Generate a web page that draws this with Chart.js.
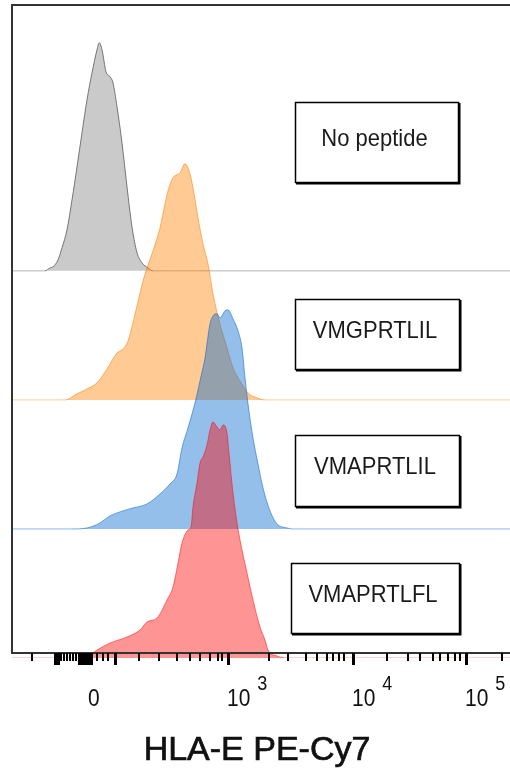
<!DOCTYPE html>
<html>
<head>
<meta charset="utf-8">
<script src="https://cdn.jsdelivr.net/npm/chart.js@4.4.1/dist/chart.umd.min.js"></script>
<style>
  html, body { margin: 0; padding: 0; background: #fff; }
  #chart { display: block; }
</style>
</head>
<body>
<canvas id="chart" width="510" height="770"></canvas>
<script>
// Staggered HLA-E PE-Cy7 histograms (biexponential display units, ~1 unit per decade)

const sampleNames = ['No peptide', 'VMGPRTLIL', 'VMAPRTLIL', 'VMAPRTLFL'];

// x positions (display units) and normalised heights for each histogram
const grayX = [-0.592, -0.328, -0.288, -0.264, -0.224, -0.192, -0.152, -0.112, -0.072, -0.032, 0.008, 0.048, 0.088, 0.106, 0.128, 0.160, 0.192, 0.216, 0.248, 0.288, 0.328, 0.368, 0.408, 0.448, 0.496, 0.536, 3.392];
const grayY = [0, 0, 0.023, 0.031, 0.085, 0.178, 0.318, 0.550, 0.806, 1.070, 1.326, 1.535, 1.713, 1.767, 1.713, 1.543, 1.504, 1.457, 1.271, 0.992, 0.651, 0.341, 0.140, 0.062, 0.023, 0, 0];

const orangeX = [-0.592, -0.168, -0.072, 0.008, 0.088, 0.168, 0.248, 0.296, 0.336, 0.408, 0.456, 0.536, 0.592, 0.632, 0.656, 0.696, 0.752, 0.792, 0.832, 0.856, 0.896, 0.936, 0.976, 1.016, 1.072, 1.128, 1.176, 1.232, 1.296, 1.368, 1.432, 3.392];
const orangeY = [0, 0, 0.047, 0.085, 0.132, 0.240, 0.364, 0.395, 0.457, 0.729, 0.922, 1.155, 1.333, 1.519, 1.620, 1.721, 1.760, 1.829, 1.752, 1.643, 1.411, 1.209, 1.054, 0.822, 0.589, 0.403, 0.248, 0.147, 0.054, 0.016, 0, 0];

const blueX = [-0.592, -0.112, 0.008, 0.112, 0.192, 0.296, 0.376, 0.488, 0.592, 0.672, 0.728, 0.768, 0.816, 0.872, 0.912, 0.952, 0.992, 1.016, 1.048, 1.072, 1.112, 1.136, 1.176, 1.216, 1.248, 1.272, 1.296, 1.336, 1.376, 1.416, 1.472, 1.528, 1.608, 1.648, 3.392];
const blueY = [0, 0, 0.008, 0.047, 0.101, 0.140, 0.163, 0.194, 0.271, 0.349, 0.426, 0.628, 0.783, 0.977, 1.147, 1.326, 1.589, 1.651, 1.667, 1.636, 1.690, 1.698, 1.628, 1.535, 1.403, 1.171, 0.969, 0.705, 0.504, 0.318, 0.140, 0.039, 0.008, 0, 0];

const redX = [-0.592, -0.008, 0.088, 0.192, 0.328, 0.432, 0.488, 0.568, 0.648, 0.696, 0.736, 0.768, 0.816, 0.840, 0.856, 0.888, 0.912, 0.936, 0.968, 0.992, 1.016, 1.048, 1.072, 1.096, 1.128, 1.144, 1.176, 1.208, 1.232, 1.288, 1.336, 1.392, 1.432, 1.456, 1.528, 1.608, 3.392];
const redY = [0, 0, 0.062, 0.116, 0.163, 0.217, 0.279, 0.310, 0.450, 0.550, 0.736, 0.891, 0.992, 1.016, 1.171, 1.357, 1.512, 1.558, 1.651, 1.767, 1.829, 1.791, 1.767, 1.806, 1.744, 1.589, 1.279, 1.047, 0.915, 0.659, 0.450, 0.240, 0.140, 0.062, 0.016, 0, 0];

// vertical offset of each histogram (stacked)
const offsets = [3, 2, 1, 0];

// axis ticks (display units)
const majorTicks = [-0.248, -0.224, -0.056, -0.04, -0.024, -0.008, 0, 0.016, 0.04, 0.232, 1.136, 2.136, 3.04];
const minorTicks = [-0.432, -0.2, -0.176, -0.152, -0.128, -0.104, -0.08, 0.088, 0.136, 0.176,
  0.424, 0.584, 0.728, 0.832, 0.912, 0.992, 1.056, 1.088,
  1.464, 1.616, 1.76, 1.848, 1.928, 1.976, 2.024, 2.064,
  2.408, 2.576, 2.672, 2.776, 2.832, 2.896, 2.952, 2.992, 3.328];
const labelTicks = [0, 1.136, 2.136, 3.04];
const labelBase = ['0', '10', '10', '10'];
const labelExp = ['', '3', '4', '5'];

const axisTitle = 'HLA-E PE-Cy7';

// label boxes (pixel layout)
const boxes = [
  { x: 295, y: 102, w: 163, h: 80 },
  { x: 295, y: 299, w: 164, h: 70 },
  { x: 295, y: 435, w: 164, h: 71 },
  { x: 291, y: 563, w: 168, h: 70 }
];

const fills = ['rgba(128,128,128,0.42)', 'rgba(255,128,0,0.42)', 'rgba(0,102,204,0.42)', 'rgba(255,0,0,0.42)'];
const lines = ['rgba(90,90,90,0.8)', 'rgba(255,128,0,0.55)', 'rgba(0,102,204,0.55)', 'rgba(255,0,0,0.5)'];
const baseLines = ['rgba(150,150,150,0.7)', 'rgba(255,128,0,0.4)', 'rgba(0,102,204,0.45)', 'rgba(255,0,0,0.35)'];

function series(xs, ys, off) {
  return xs.map((x, i) => ({ x: x, y: ys[i] + off }));
}

const seriesX = [grayX, orangeX, blueX, redX];
const seriesY = [grayY, orangeY, blueY, redY];

const datasets = sampleNames.map((name, i) => ({
  label: name,
  data: series(seriesX[i], seriesY[i], offsets[i]),
  borderColor: lines[i],
  backgroundColor: fills[i],
  borderWidth: 1,
  pointRadius: 0,
  cubicInterpolationMode: 'monotone',
  fill: { value: offsets[i] },
  order: 4 - i,
  segment: {
    // flat stretches along the baseline are drawn lighter
    borderColor: c => (c.p0.parsed.y === offsets[i] && c.p1.parsed.y === offsets[i]) ? baseLines[i] : undefined
  }
}));

// text slightly stretched vertically like the exported figure
function tallText(ctx, text, x, y, sy) {
  ctx.save();
  ctx.translate(x, y);
  ctx.scale(1, sy);
  ctx.fillText(text, 0, 0);
  ctx.restore();
}

// frame, axis ticks, labels and sample boxes
const decorations = {
  id: 'decorations',
  afterDatasetsDraw(chart) {
    const ctx = chart.ctx;
    const area = chart.chartArea;
    const xs = chart.scales.x;
    const axisY = area.bottom - 5;

    ctx.save();
    ctx.strokeStyle = '#333';
    ctx.lineWidth = 2;
    ctx.beginPath();
    ctx.moveTo(area.right + 2, area.top);
    ctx.lineTo(area.left, area.top);
    ctx.lineTo(area.left, axisY);
    ctx.lineTo(area.right + 2, axisY);
    ctx.stroke();

    // ticks
    ctx.strokeStyle = '#000';
    ctx.lineWidth = 2;
    minorTicks.forEach(t => {
      const px = Math.round(xs.getPixelForValue(t));
      ctx.beginPath();
      ctx.moveTo(px, axisY);
      ctx.lineTo(px, axisY + 8);
      ctx.stroke();
    });
    ctx.lineWidth = 3;
    majorTicks.forEach(t => {
      const px = Math.round(xs.getPixelForValue(t)) + 0.5;
      ctx.beginPath();
      ctx.moveTo(px, axisY);
      ctx.lineTo(px, axisY + 12);
      ctx.stroke();
    });

    // tick labels
    ctx.fillStyle = '#111';
    ctx.textBaseline = 'alphabetic';
    ctx.textAlign = 'left';
    labelTicks.forEach((t, i) => {
      const px = xs.getPixelForValue(t) + (labelExp[i] ? -1 : 2);
      ctx.font = '21px "Liberation Sans", Arial, sans-serif';
      tallText(ctx, labelBase[i], px, 706, 1.13);
      if (labelExp[i]) {
        const w = ctx.measureText(labelBase[i]).width;
        ctx.font = '18px "Liberation Sans", Arial, sans-serif';
        tallText(ctx, labelExp[i], px + w + 7, 690, 1.15);
      }
    });

    // axis title
    ctx.font = '34px "Liberation Sans", Arial, sans-serif';
    ctx.textAlign = 'center';
    ctx.strokeStyle = '#111';
    ctx.lineWidth = 0.7;
    ctx.fillText(axisTitle, 257, 760);
    ctx.strokeText(axisTitle, 257, 760);

    // sample boxes
    boxes.forEach((b, i) => {
      ctx.fillStyle = '#fff';
      ctx.fillRect(b.x, b.y, b.w, b.h);
      ctx.strokeStyle = '#000';
      ctx.lineWidth = 1.5;
      ctx.strokeRect(b.x + 0.5, b.y + 0.5, b.w, b.h);
      ctx.lineWidth = 2;
      ctx.beginPath();
      ctx.moveTo(b.x + b.w + 1.5, b.y + 1);
      ctx.lineTo(b.x + b.w + 1.5, b.y + b.h + 1.5);
      ctx.lineTo(b.x + 1, b.y + b.h + 1.5);
      ctx.stroke();
      ctx.fillStyle = '#1a1a1a';
      ctx.font = '22px "Liberation Sans", Arial, sans-serif';
      ctx.textAlign = 'center';
      ctx.textBaseline = 'middle';
      tallText(ctx, sampleNames[i], b.x + b.w / 2 - 2, b.y + b.h / 2 - 3, 1.08);
    });
    ctx.restore();
  }
};

new Chart(document.getElementById('chart'), {
  type: 'line',
  data: { datasets: datasets },
  options: {
    responsive: false,
    animation: false,
    devicePixelRatio: 1,
    layout: { padding: { left: 12, right: 0, top: 5, bottom: 112 } },
    plugins: { legend: { display: false }, tooltip: { enabled: false } },
    scales: {
      x: { type: 'linear', min: -0.592, max: 3.392, display: false },
      y: { type: 'linear', min: 0, max: 5.06, display: false }
    }
  },
  plugins: [decorations]
});
</script>
</body>
</html>
